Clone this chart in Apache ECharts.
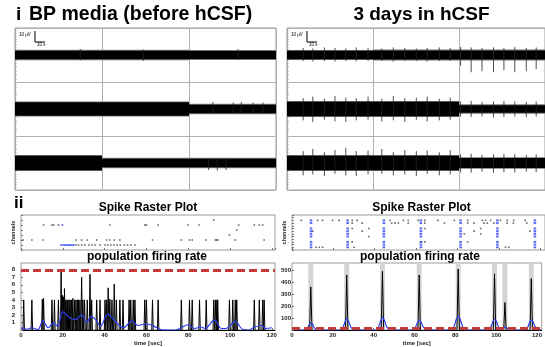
<!DOCTYPE html>
<html><head><meta charset="utf-8">
<script src="https://cdn.jsdelivr.net/npm/echarts@6/dist/echarts.min.js"></script>
<style>html,body{margin:0;padding:0;background:#fff}#c{width:545px;height:347px}</style>
</head><body><div id="c"></div>
<script>
// ---------- DATA ----------
// Top panels: voltage traces (x: time units, y: µV offsets; 3 rows per panel)
const segBounds = [0, 80, 160, 240];
const rowCenters = [125, 75, 25];
const leftBandHalf = [[4.0, 4.0, 3.8], [6.2, 6.2, 4.0], [6.6, 4.0, 4.0]];
const rightBandHalf = [[3.9, 4.2, 4.2], [6.6, 6.6, 3.5], [6.6, 6.6, 4.6]];

const rightSpikeTimes = [15, 24, 34.8, 44.6, 54.7, 64.4, 75.4, 88.2, 98.9, 109.6, 120.3, 130.4, 141.7, 151.8, 161.5, 171.3, 181.4, 192.1, 201.8, 211.9, 222.6, 231.8];
const rightSpikeUp = [
  [6.5, 6, 7, 6.5, 6, 7, 6.5, 6, 7, 6.5, 6, 6.5, 7, 6.5, 7.5, 7, 6.5, 7, 6.5, 7.5, 6.5, 7],
  [10, 11.5, 9.5, 12, 10.5, 10, 11.5, 9.5, 12, 10, 10.5, 11.5, 9.5, 10.5, 7, 7.5, 6.5, 7, 7.5, 7, 6.5, 7],
  [11, 13, 10, 12, 14, 11, 11.5, 13, 10, 12, 11, 11.5, 10, 12, 8, 8.5, 7.5, 8, 8.5, 8, 7.5, 8]
];
const rightSpikeDown = [
  [5.5, 6, 5.5, 6, 5.5, 6, 5.5, 5.5, 6, 5.5, 5.5, 6, 5.5, 5.5, 10, 16, 15, 16, 14, 16, 15, 13],
  [10.5, 12, 10, 11.5, 12, 10.5, 10, 11.5, 10.5, 12, 10, 11.5, 10.5, 10, 7, 7.5, 7, 8, 7.5, 7, 7.5, 7],
  [11.5, 10.5, 12, 10, 11.5, 12, 10.5, 10, 11.5, 10.5, 12, 10, 11.5, 10.5, 8.5, 9, 8, 9, 8.5, 9, 8, 8.5]
];
const leftSpikeTimes = [[60, 118, 205], [182, 200.7, 208, 219, 228], [178, 186, 194]];
const leftSpikeUp = [[5.5, 5, 5.5], [6.5, 6, 6.5, 6, 6], [4.5, 4.5, 4.5]];
const leftSpikeDown = [[5, 5.5, 4.5], [4.5, 4.5, 4.5, 4.5, 4.5], [6.5, 7, 6.5]];

// Left raster (time s, channel)
const leftRasterGray = [[92.2, 6], [10.8, 5], [14.8, 5], [15.6, 5], [17.9, 5], [42.5, 5], [59.2, 5], [60, 5], [65.6, 5], [79.8, 5], [85.1, 5], [104.1, 5], [111.6, 5], [114, 5], [115.6, 5], [103.2, 4], [99.7, 3],
  [1, 2], [5.2, 2], [10.5, 2], [26.3, 2], [29, 2], [31.7, 2], [36.2, 2], [41, 2], [42.5, 2], [44.6, 2], [47.3, 2], [62.9, 2], [76.7, 2], [80.6, 2], [81.9, 2], [88.6, 2], [93, 2], [93.7, 2], [94.1, 2], [102.5, 2], [116.3, 2],
  [26.3, 1], [27.5, 1], [29, 1], [30.5, 1], [32.5, 1], [34, 1], [35.5, 1], [37.8, 1], [40.2, 1], [41.5, 1], [43, 1], [44.5, 1], [46, 1], [47.5, 1], [49.5, 1], [51, 1], [52.5, 1], [54.5, 1]];
const leftRasterBlue = [[19.8, 5], [19.2, 1], [20.2, 1], [21, 1], [21.8, 1], [22.6, 1], [23.4, 1], [24.4, 1], [25.2, 1]];

// Left population firing rate
const leftRateSpikes = [[1.3, 4], [5.2, 4], [10.2, 4.1], [10.8, 4.2], [14.8, 4], [16, 4], [17.9, 4], [19.2, 8], [19.8, 4.6], [20.3, 4.4], [20.8, 5.5], [21.4, 4], [22, 4], [22.4, 4], [23, 4], [23.5, 4], [24.2, 4], [24.8, 4.2], [25.6, 4], [26.3, 4], [27, 4], [27.5, 4], [28.2, 4], [29, 7], [29.6, 4], [30.4, 4], [31.7, 4], [33, 7.4], [33.8, 4], [36.2, 4], [37.8, 4], [40.2, 4], [41, 4], [41.7, 5.6], [42.5, 4.1], [43.5, 4], [44.6, 6.1], [45.6, 4], [47.3, 4], [48.8, 4], [51.7, 4], [52.5, 4], [53.7, 4], [54.5, 4], [59.2, 4], [60, 4], [62.9, 4], [65.6, 4], [76.7, 4], [80.6, 4], [81.9, 4], [85.4, 4], [88.6, 4], [92.2, 4], [93, 4], [93.7, 4], [94.1, 4], [99.7, 4], [101.3, 4], [102.5, 4], [103.2, 4], [111.6, 4], [114, 4], [115.6, 4], [116.3, 4]];
const leftRateSmooth = [[0, 0.3], [3, 0.1], [5, 0.3], [8, 0.05], [10.5, 1.2], [13, 0.3], [15.5, 0.9], [17.5, 0.5], [20, 2.4], [23, 1.7], [26, 1.4], [27, 1.5], [29, 2.0], [31.5, 1.0], [33.5, 1.8], [36, 1.3], [38, 0.5], [41.5, 2.1], [44, 1.5], [47, 0.6], [49, 0.3], [53, 1.2], [56, 0.6], [59.5, 0.8], [62, 0.7], [65, 0.3], [68, 0], [74, 0], [76, 0.2], [80, 0.7], [83, 0.2], [86, 0.4], [88, 0.2], [92.5, 1.3], [96, 0.2], [98, 0.2], [102.5, 1.1], [106, 0.1], [109, 0], [111, 0.3], [115, 0.6], [117, 0.2], [120, 0.3]];
const leftThreshold = 8;
const leftRateTicks = [1, 2, 3, 4, 5, 6, 7, 8];

// Right raster
const rightBurstTimes = [9.2, 26.9, 44.4, 62.3, 81.5, 99.3, 117.4];
const rightBurstChannels = [1, 2, 3, 5, 6, 7, 8, 10, 11];
const rightRasterGray = [[4.5, 11], [12.4, 11], [14.8, 11], [19.6, 11], [22.8, 11], [29.1, 11], [31.5, 11], [47.5, 11], [53.8, 11], [56.2, 11], [61, 11], [64.2, 11], [70.5, 11], [78.5, 11], [84.9, 11], [92, 11], [93.6, 11], [96, 11], [100.8, 11], [104, 11], [107.2, 11], [112.7, 11],
  [29.1, 10], [33.9, 10], [48.2, 10], [49.8, 10], [51.4, 10], [56.2, 10], [64.2, 10], [73.7, 10], [84.9, 10], [88, 10], [92.8, 10], [94.4, 10], [97.6, 10], [104, 10], [107, 10], [113.5, 10],
  [29.1, 8], [37.1, 8], [64.2, 8], [91.2, 8], [10, 7], [33.9, 7], [88, 7], [115, 7], [83.3, 6], [91.2, 6], [37.1, 5],
  [29.1, 3], [62.6, 3], [64.2, 3], [84.9, 3], [11.6, 1], [13.2, 1], [14.8, 1], [30, 1], [103.2, 1], [104.8, 1]];

// Right population firing rate
const rightPeakTimes = [9.2, 26.8, 44.3, 62.3, 81.4, 99.2, 104.3, 117.2];
const rightPeakValues = [360, 460, 490, 460, 510, 470, 230, 430];
const rightRateSmooth = [[0, 0], [6, 0], [7.5, 15], [8.5, 45], [9.3, 60], [10.2, 45], [11, 15], [12.5, 0],
  [23.5, 0], [25, 25], [26, 70], [26.9, 95], [27.8, 70], [28.8, 25], [30.3, 0],
  [41, 0], [42.5, 30], [43.5, 80], [44.4, 105], [45.3, 80], [46.3, 30], [47.8, 0],
  [59, 0], [60.5, 25], [61.5, 65], [62.4, 85], [63.3, 65], [64.3, 25], [65.8, 0],
  [78, 0], [79.5, 35], [80.5, 90], [81.5, 115], [82.4, 90], [83.4, 35], [85, 0],
  [96, 0], [97.5, 30], [98.4, 70], [99.3, 90], [100.2, 70], [101.2, 25], [102.5, 2], [103.5, 18], [104.4, 25], [105.3, 15], [106.5, 0],
  [114, 0], [115.5, 25], [116.4, 65], [117.3, 85], [118.2, 65], [119.2, 25], [120.7, 0], [122, 0]];
const rightThreshold = 18;
const rightRateTicks = [100, 200, 300, 400, 500];
const timeTicks = [0, 20, 40, 60, 80, 100, 120];

// ---------- BUILD ----------
const FONT = "'Liberation Sans', Arial, sans-serif";
function bandData(halfs) {
  const out = [];
  rowCenters.forEach((c, r) => { for (let s = 0; s < 3; s++) out.push([segBounds[s], segBounds[s + 1], c, halfs[r][s]]); });
  return out;
}
function spikeData(times, ups, downs) {
  const out = [];
  rowCenters.forEach((c, r) => times[r].forEach((t, i) => out.push([t, c, ups[r][i], downs[r][i]])));
  return out;
}
const rightTimesPerRow = [rightSpikeTimes, rightSpikeTimes, rightSpikeTimes];
const blueRight = [];
rightBurstTimes.forEach(t => rightBurstChannels.forEach(ch => blueRight.push([t, ch])));
const rightPeaks = rightPeakTimes.map((t, i) => [t, rightPeakValues[i]]);

function renderBand(params, api) {
  const h = api.value(3), c = api.value(2);
  const o0 = api.coord([api.value(0), c + h + 0.8]), o1 = api.coord([api.value(1), c - h - 0.8]);
  const p0 = api.coord([api.value(0), c + h]), p1 = api.coord([api.value(1), c - h]);
  return { type: 'group', children: [
    { type: 'rect', shape: { x: o0[0], y: o0[1], width: o1[0] - o0[0], height: o1[1] - o0[1] }, style: { fill: '#777' } },
    { type: 'rect', shape: { x: p0[0], y: p0[1], width: p1[0] - p0[0], height: p1[1] - p0[1] }, style: { fill: '#000' } }
  ] };
}
function renderSpike(params, api) {
  const t = api.value(0), c = api.value(1);
  const a = api.coord([t, c + api.value(2)]), b = api.coord([t, c - api.value(3)]);
  return { type: 'line', shape: { x1: a[0], y1: a[1], x2: b[0], y2: b[1] }, style: { stroke: '#222', lineWidth: 0.8 } };
}
function spikeRenderer(halfBase, color, width) {
  return function (params, api) {
    const t = api.value(0), v = api.value(1);
    return { type: 'polyline', shape: { points: [api.coord([t - halfBase, 0]), api.coord([t, v]), api.coord([t + halfBase, 0])] },
      style: { stroke: color, lineWidth: width, fill: null } };
  };
}
function renderGrayBand(params, api) {
  const t = api.value(0);
  const p0 = api.coord([t - 1.2, 560]), p1 = api.coord([t + 1.2, 0]);
  return { type: 'rect', shape: { x: p0[0], y: p0[1], width: p1[0] - p0[0], height: p1[1] - p0[1] }, style: { fill: '#d4d4d4' } };
}

const gridBorder = { show: true, borderColor: '#9a9a9a', borderWidth: 1, backgroundColor: 'transparent' };
const grids = [
  Object.assign({ left: 15, top: 28, width: 261, height: 162 }, gridBorder),
  Object.assign({ left: 287, top: 28, width: 262, height: 162 }, gridBorder),
  Object.assign({ left: 21, top: 215, width: 254, height: 35 }, gridBorder),
  Object.assign({ left: 21, top: 263, width: 254, height: 70 }, gridBorder),
  Object.assign({ left: 292, top: 215, width: 256, height: 35 }, gridBorder),
  Object.assign({ left: 292, top: 263, width: 256, height: 70 }, gridBorder)
];
const smallLbl = { fontSize: 6, fontWeight: 'bold', color: '#222', fontFamily: FONT };
function topX(g) {
  return { gridIndex: g, type: 'value', min: 0, max: 240, interval: 80, axisLabel: { show: false }, axisTick: { show: false }, axisLine: { show: false },
    splitLine: { show: true, lineStyle: { color: '#b0b0b0', width: 1 } } };
}
function topY(g) {
  return { gridIndex: g, type: 'value', min: 0, max: 150, interval: 50, axisLabel: { show: false }, axisTick: { show: false, inside: true }, axisLine: { show: false },
    splitLine: { show: true, lineStyle: { color: '#b0b0b0', width: 1 } },
    minorTick: { show: true, splitNumber: 20, length: 1.5, lineStyle: { color: '#999' } } };
}
function timeX(g, max, withLabels) {
  return { gridIndex: g, type: 'value', min: 0, max: max, interval: 20,
    axisLabel: withLabels ? Object.assign({ margin: 2, showMaxLabel: false, formatter: v => timeTicks.includes(v) ? String(v) : '' }, smallLbl) : { show: false },
    axisTick: { show: true, inside: true, length: 2, lineStyle: { color: '#777' } },
    axisLine: { show: withLabels, lineStyle: { color: '#000', width: 1 } }, splitLine: { show: false },
    name: withLabels ? 'time [sec]' : '', nameLocation: 'middle', nameGap: 10,
    nameTextStyle: { fontSize: 6, fontWeight: 'bold', color: '#222', fontFamily: FONT } };
}
function rasterY(g, max) {
  return { gridIndex: g, type: 'value', min: 0, max: max, interval: 1, axisLabel: { show: false },
    axisTick: { show: true, inside: true, length: 2, lineStyle: { color: '#777' } }, axisLine: { show: false }, splitLine: { show: false },
    name: 'channels', nameLocation: 'middle', nameGap: 5, nameRotate: 90,
    nameTextStyle: { fontSize: 5.5, fontWeight: 'bold', color: '#222', fontFamily: FONT } };
}
function rateY(g, max, interval, ticks, margin) {
  return { gridIndex: g, type: 'value', min: 0, max: max, interval: interval,
    axisLabel: Object.assign({ margin: margin, showMaxLabel: false, formatter: v => ticks.includes(v) ? String(v) : '' }, smallLbl),
    axisTick: { show: true, inside: true, length: 2, lineStyle: { color: '#777' } }, axisLine: { show: false }, splitLine: { show: false } };
}

const redLine = (v) => ({ silent: true, symbol: 'none', label: { show: false }, data: [{ yAxis: v }],
  lineStyle: { color: '#c33a3a', width: 3, type: [8, 4] }, animation: false });

const option = {
  animation: false,
  backgroundColor: '#fff',
  grid: grids,
  xAxis: [topX(0), topX(1), timeX(2, 121.5, false), timeX(3, 121.5, true), timeX(4, 122.3, false), timeX(5, 122.3, true)],
  yAxis: [topY(0), topY(1), rasterY(2, 7), rateY(3, 8.9, 1, leftRateTicks, 6), rasterY(4, 13), rateY(5, 560, 100, rightRateTicks, 1)],
  series: [
    { type: 'custom', xAxisIndex: 0, yAxisIndex: 0, data: bandData(leftBandHalf), renderItem: renderBand, clip: true },
    { type: 'custom', xAxisIndex: 0, yAxisIndex: 0, data: spikeData(leftSpikeTimes, leftSpikeUp, leftSpikeDown), renderItem: renderSpike, clip: true },
    { type: 'custom', xAxisIndex: 1, yAxisIndex: 1, data: bandData(rightBandHalf), renderItem: renderBand, clip: true },
    { type: 'custom', xAxisIndex: 1, yAxisIndex: 1, data: spikeData(rightTimesPerRow, rightSpikeUp, rightSpikeDown), renderItem: renderSpike, clip: true },
    { type: 'scatter', xAxisIndex: 2, yAxisIndex: 2, data: leftRasterGray, symbol: 'rect', symbolSize: [1.6, 1.6], itemStyle: { color: '#444' } },
    { type: 'scatter', xAxisIndex: 2, yAxisIndex: 2, data: leftRasterBlue, symbol: 'rect', symbolSize: [1.8, 1.8], itemStyle: { color: '#3a4cf0' } },
    { type: 'custom', xAxisIndex: 3, yAxisIndex: 3, data: leftRateSpikes, renderItem: spikeRenderer(0.35, '#000', 1), clip: true },
    { type: 'line', xAxisIndex: 3, yAxisIndex: 3, data: leftRateSmooth, smooth: 0.4, showSymbol: false, lineStyle: { color: '#2b3cf0', width: 1.2 }, markLine: redLine(leftThreshold) },
    { type: 'scatter', xAxisIndex: 4, yAxisIndex: 4, data: rightRasterGray, symbol: 'rect', symbolSize: [1.6, 1.6], itemStyle: { color: '#444' } },
    { type: 'scatter', xAxisIndex: 4, yAxisIndex: 4, data: blueRight, symbol: 'rect', symbolSize: [2.6, 2], itemStyle: { color: '#2f45f5' } },
    { type: 'custom', xAxisIndex: 5, yAxisIndex: 5, data: rightPeakTimes, renderItem: renderGrayBand, clip: true },
    { type: 'custom', xAxisIndex: 5, yAxisIndex: 5, data: rightPeaks, renderItem: spikeRenderer(0.6, '#000', 1), clip: true },
    { type: 'line', xAxisIndex: 5, yAxisIndex: 5, data: rightRateSmooth, smooth: 0.3, showSymbol: false, lineStyle: { color: '#2b3cf0', width: 1.2 }, markLine: redLine(rightThreshold) }
  ],
  graphic: [
    { type: 'text', x: 16, y: 15, style: { text: 'i', font: "bold 19px 'Liberation Sans', Arial, sans-serif", fill: '#000', textAlign: 'left', textVerticalAlign: 'middle' } },
    { type: 'text', x: 29, y: 15, style: { text: 'BP media (before hCSF)', font: "bold 19.5px 'Liberation Sans', Arial, sans-serif", fill: '#000', textAlign: 'left', textVerticalAlign: 'middle' } },
    { type: 'text', x: 421.5, y: 15, style: { text: '3 days in hCSF', font: "bold 19px 'Liberation Sans', Arial, sans-serif", fill: '#000', textAlign: 'center', textVerticalAlign: 'middle' } },
    { type: 'text', x: 14, y: 203, style: { text: 'ii', font: "bold 17px 'Liberation Sans', Arial, sans-serif", fill: '#000', textAlign: 'left', textVerticalAlign: 'middle' } },
    { type: 'text', x: 148, y: 207.5, style: { text: 'Spike Raster Plot', font: "bold 12px 'Liberation Sans', Arial, sans-serif", fill: '#000', textAlign: 'center', textVerticalAlign: 'middle' } },
    { type: 'text', x: 421.5, y: 207.5, style: { text: 'Spike Raster Plot', font: "bold 12px 'Liberation Sans', Arial, sans-serif", fill: '#000', textAlign: 'center', textVerticalAlign: 'middle' } },
    { type: 'text', x: 147, y: 256.5, style: { text: 'population firing rate', font: "bold 12px 'Liberation Sans', Arial, sans-serif", fill: '#000', textAlign: 'center', textVerticalAlign: 'middle' } },
    { type: 'text', x: 420, y: 256.5, style: { text: 'population firing rate', font: "bold 12px 'Liberation Sans', Arial, sans-serif", fill: '#000', textAlign: 'center', textVerticalAlign: 'middle' } },
    // scale bars
    { type: 'polyline', shape: { points: [[35, 31], [35, 42], [45, 42]] }, style: { stroke: '#000', lineWidth: 1, fill: null } },
    { type: 'text', x: 19, y: 35, style: { text: '10 µV', font: "4.5px 'Liberation Sans', Arial, sans-serif", fill: '#000', textVerticalAlign: 'middle' } },
    { type: 'text', x: 37, y: 45, style: { text: '10 s', font: "4.5px 'Liberation Sans', Arial, sans-serif", fill: '#000', textVerticalAlign: 'middle' } },
    { type: 'polyline', shape: { points: [[307, 31], [307, 42], [317, 42]] }, style: { stroke: '#000', lineWidth: 1, fill: null } },
    { type: 'text', x: 291, y: 35, style: { text: '10 µV', font: "4.5px 'Liberation Sans', Arial, sans-serif", fill: '#000', textVerticalAlign: 'middle' } },
    { type: 'text', x: 309, y: 45, style: { text: '10 s', font: "4.5px 'Liberation Sans', Arial, sans-serif", fill: '#000', textVerticalAlign: 'middle' } }
  ]
};
const chart = echarts.init(document.getElementById('c'), null, { renderer: 'canvas' });
chart.setOption(option);
</script></body></html>
